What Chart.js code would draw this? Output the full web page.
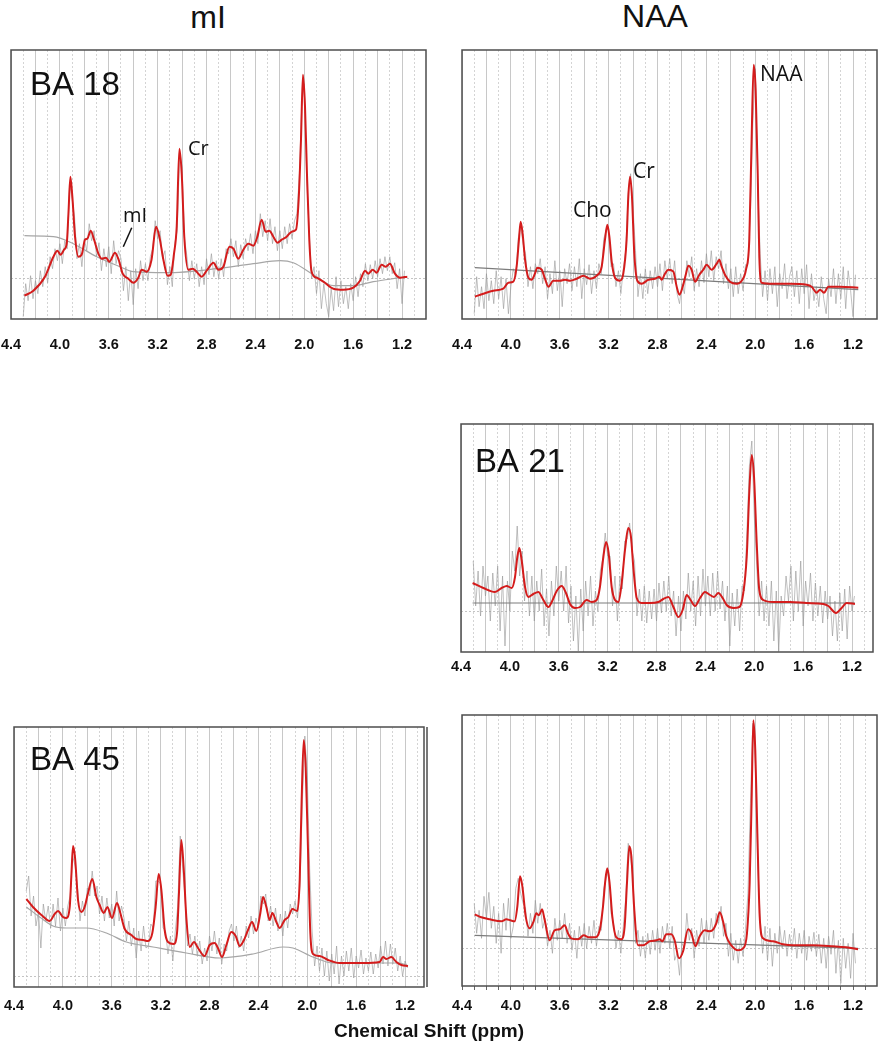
<!DOCTYPE html>
<html>
<head>
<meta charset="utf-8">
<title>MRS spectra</title>
<script src="https://cdn.jsdelivr.net/npm/chart.js@4.4.1/dist/chart.umd.min.js"></script>
<style>
	html, body { margin: 0; padding: 0; background: #fff; overflow: hidden; }
	body { position: relative; width: 879px; height: 1050px; }
	.panel { position: absolute; }
	.txt { position: absolute; color: #111; white-space: nowrap; line-height: 1; transform: translateX(-50%); }
	.col-title { font: 32px "Liberation Sans", Arial, sans-serif; }
	.x-title { font: bold 19px "Liberation Sans", Arial, sans-serif; }
</style>
</head>
<body>
<div class="txt col-title" style="left:208px;top:-1px">mI</div>
<div class="txt col-title" style="left:655px;top:-2px">NAA</div>

<script>
(function () {
	'use strict';

	// ppm positions of the raw (noisy) spectrum samples
	const ppmGrid = [
		4.30, 4.28, 4.26, 4.24, 4.22, 4.20, 4.18, 4.16, 4.14, 4.12,
		4.10, 4.08, 4.06, 4.04, 4.02, 4.00, 3.98, 3.96, 3.94, 3.92,
		3.90, 3.88, 3.86, 3.84, 3.82, 3.80, 3.78, 3.76, 3.74, 3.72,
		3.70, 3.68, 3.66, 3.64, 3.62, 3.60, 3.58, 3.56, 3.54, 3.52,
		3.50, 3.48, 3.46, 3.44, 3.42, 3.40, 3.38, 3.36, 3.34, 3.32,
		3.30, 3.28, 3.26, 3.24, 3.22, 3.20, 3.18, 3.16, 3.14, 3.12,
		3.10, 3.08, 3.06, 3.04, 3.02, 3.00, 2.98, 2.96, 2.94, 2.92,
		2.90, 2.88, 2.86, 2.84, 2.82, 2.80, 2.78, 2.76, 2.74, 2.72,
		2.70, 2.68, 2.66, 2.64, 2.62, 2.60, 2.58, 2.56, 2.54, 2.52,
		2.50, 2.48, 2.46, 2.44, 2.42, 2.40, 2.38, 2.36, 2.34, 2.32,
		2.30, 2.28, 2.26, 2.24, 2.22, 2.20, 2.18, 2.16, 2.14, 2.12,
		2.10, 2.08, 2.06, 2.04, 2.02, 2.00, 1.98, 1.96, 1.94, 1.92,
		1.90, 1.88, 1.86, 1.84, 1.82, 1.80, 1.78, 1.76, 1.74, 1.72,
		1.70, 1.68, 1.66, 1.64, 1.62, 1.60, 1.58, 1.56, 1.54, 1.52,
		1.50, 1.48, 1.46, 1.44, 1.42, 1.40, 1.38, 1.36, 1.34, 1.32,
		1.30, 1.28, 1.26, 1.24, 1.22, 1.20, 1.18,
	];
	const gridTicks = [4.4, 4.3, 4.2, 4.1, 4.0, 3.9, 3.8, 3.7, 3.6, 3.5, 3.4, 3.3, 3.2, 3.1, 3.0, 2.9, 2.8, 2.7,
		2.6, 2.5, 2.4, 2.3, 2.2, 2.1, 2.0, 1.9, 1.8, 1.7, 1.6, 1.5, 1.4, 1.3, 1.2, 1.1, 1.0];
	const labelTicks = [4.4, 4.0, 3.6, 3.2, 2.8, 2.4, 2.0, 1.6, 1.2];

	// BA 18 - mI voxel
	const miBA18Fit = [[4.29, -17], [4.217, -12], [4.122, 2], [4.053, 22], [4.02, 28], [3.994, 24], [3.966, 29], [3.944, 35],
		[3.93, 65], [3.914, 102], [3.898, 82], [3.876, 42], [3.849, 22], [3.822, 24], [3.794, 39], [3.775, 40], [3.748, 48],
		[3.72, 39], [3.685, 25], [3.658, 20], [3.622, 21], [3.595, 17], [3.549, 26], [3.522, 20], [3.486, 5], [3.44, 0],
		[3.4, -4], [3.358, 1], [3.331, 9], [3.29, 7], [3.25, 19], [3.213, 52], [3.186, 42], [3.153, 19], [3.118, 3],
		[3.093, 4], [3.066, 25], [3.044, 52], [3.022, 130], [3.003, 105], [2.982, 42], [2.949, 9], [2.913, 10], [2.881, 7],
		[2.84, 2], [2.793, 9], [2.744, 16], [2.703, 9], [2.662, 12], [2.613, 32], [2.58, 30], [2.54, 20], [2.499, 29],
		[2.458, 35], [2.417, 33], [2.384, 42], [2.349, 59], [2.316, 47], [2.286, 48], [2.253, 42], [2.22, 36], [2.185, 39],
		[2.144, 42], [2.103, 47], [2.068, 49], [2.046, 79], [2.027, 139], [2.011, 204], [1.994, 172], [1.978, 105],
		[1.959, 39], [1.94, 7], [1.899, 1], [1.844, -3], [1.762, -10], [1.68, -11], [1.599, -9], [1.544, -2], [1.503, 8],
		[1.476, 5], [1.44, 9], [1.408, 6], [1.367, 14], [1.334, 12], [1.299, 15], [1.258, 5], [1.217, 1], [1.157, 2]];
	const miBA18Base = [[4.29, 43], [4.053, 42], [3.89, 35], [3.699, 22], [3.508, 12], [3.4, 7], [3.127, 6], [2.717, 10],
		[2.417, 15], [2.199, 18], [2.09, 16], [1.926, 4], [1.762, -7], [1.599, -7], [1.435, -3], [1.217, 1]];
	const miBA18Raw = [
		-38, -5, -22, 3, -20, -2, -15, 8, -8, 12,
		-4, 22, 10, 30, 18, 35, 15, 38, 30, 95,
		80, 62, 20, 35, 12, 40, 28, 55, 38, 48,
		22, 36, 8, 30, 12, 32, 5, 38, 15, 28,
		20, -12, 12, -22, 8, -26, 10, -10, 18, -2,
		15, -2, 22, 30, 58, 40, 48, 20, 28, -6,
		12, -8, 35, 48, 125, 112, 40, 22, -2, 18,
		0, 15, -8, 12, -6, 20, 4, 25, 2, 18,
		0, 20, 2, 30, 25, 40, 22, 38, 12, 34,
		20, 40, 28, 45, 25, 48, 35, 65, 42, 58,
		38, 60, 35, 52, 28, 48, 30, 52, 35, 55,
		40, 58, 65, 105, 175, 195, 100, 48, 0, 12,
		-15, 8, -30, -5, -25, -38, -10, -32, 2, -28,
		-2, -25, -8, -30, -5, -22, 2, -18, 5, -8,
		15, -2, 14, 0, 18, 2, 20, 5, 22, 8,
		22, 5, 16, -10, 10, -25, 8,
	];

	// BA 18 - NAA voxel
	const naaBA18Fit = [[4.294, -18], [4.225, -15], [4.144, -12], [4.062, -10], [4.021, -4], [3.98, -3], [3.953, 12],
		[3.934, 39], [3.92, 57], [3.904, 45], [3.884, 19], [3.857, 1], [3.83, -1], [3.803, 5], [3.784, 11], [3.748, 9],
		[3.721, 0], [3.693, -8], [3.653, -2], [3.598, -2], [3.557, -1], [3.516, -2], [3.462, 0], [3.407, 3], [3.353, 0],
		[3.298, 3], [3.257, 12], [3.23, 39], [3.211, 54], [3.194, 42], [3.175, 17], [3.148, 1], [3.107, -2], [3.08, 5],
		[3.053, 39], [3.039, 82], [3.025, 102], [3.009, 82], [2.99, 25], [2.965, -2], [2.93, -5], [2.875, -1], [2.82, 0],
		[2.785, 2], [2.766, -1], [2.739, 5], [2.711, 9], [2.67, 7], [2.643, -8], [2.621, -16], [2.594, -8], [2.567, 5],
		[2.548, 13], [2.521, 9], [2.493, -3], [2.458, 4], [2.425, 9], [2.398, 14], [2.357, 9], [2.316, 15], [2.294, 19],
		[2.275, 12], [2.248, 4], [2.207, -3], [2.152, -5], [2.111, -2], [2.076, 9], [2.049, 39], [2.03, 139], [2.013, 214],
		[1.997, 189], [1.98, 105], [1.967, 22], [1.948, -4], [1.852, -5], [1.716, -5], [1.58, -6], [1.539, -8],
		[1.498, -14], [1.47, -11], [1.438, -14], [1.402, -8], [1.307, -8], [1.157, -9]];
	const naaBA18Base = [[4.294, 11], [1.157, -11]];
	const naaBA18Raw = [
		-35, 2, -28, -8, -30, 5, -22, -2, -25, 8,
		-20, 2, -30, 0, -35, -8, 10, 2, 40, 52,
		35, 25, -8, 12, -10, 15, 5, 20, -5, 12,
		-20, 5, -15, 18, -12, 8, -28, 10, -5, 15,
		-12, 12, -8, 20, -20, 10, -6, 14, -15, 8,
		-10, 15, 5, 40, 48, 50, 12, 15, -8, 8,
		-15, 10, 28, 85, 105, 70, 28, -18, 5, -20,
		10, -15, 8, -10, 12, -8, 15, -12, 18, 0,
		20, -5, 18, -15, -25, -5, -15, 18, 2, 22,
		-12, 10, -8, 18, -4, 25, 2, 28, -2, 22,
		10, 28, -5, 15, -10, 10, -18, 12, -15, 5,
		-12, 14, 15, 65, 155, 210, 95, 25, -18, 8,
		-22, 10, -15, 12, -28, 5, -10, 15, -20, 2,
		12, -18, 8, -25, 10, -15, 14, -30, 5, -22,
		-8, -28, 2, -20, -35, 0, -18, 10, -25, 5,
		-20, 12, -30, 8, -12, -38, 4,
	];

	// BA 21 - NAA voxel
	const naaBA21Fit = [[4.305, 28], [4.217, 23], [4.122, 19], [4.067, 23], [4.026, 25], [3.985, 23], [3.958, 34],
		[3.939, 54], [3.923, 63], [3.904, 51], [3.876, 24], [3.849, 14], [3.808, 17], [3.767, 19], [3.726, 11], [3.685, 4],
		[3.65, 11], [3.617, 20], [3.576, 25], [3.541, 18], [3.508, 7], [3.467, 3], [3.426, 4], [3.372, 11], [3.331, 9],
		[3.29, 11], [3.263, 24], [3.235, 54], [3.213, 69], [3.192, 58], [3.167, 24], [3.14, 11], [3.112, 9], [3.085, 28],
		[3.058, 61], [3.031, 83], [3.009, 74], [2.99, 44], [2.962, 13], [2.922, 8], [2.853, 8], [2.785, 9], [2.744, 12],
		[2.703, 14], [2.662, 4], [2.621, -6], [2.586, 1], [2.553, 16], [2.521, 11], [2.485, 5], [2.444, 13], [2.403, 19],
		[2.362, 16], [2.33, 14], [2.294, 18], [2.259, 13], [2.226, 6], [2.171, 3], [2.122, 4], [2.09, 18], [2.062, 54],
		[2.04, 121], [2.021, 156], [2.002, 134], [1.98, 68], [1.959, 21], [1.926, 11], [1.844, 9], [1.708, 9], [1.571, 8],
		[1.435, 7], [1.394, 5], [1.331, -2], [1.285, 3], [1.244, 8], [1.176, 7]];
	const naaBA21Base = [[4.305, 8], [1.176, 8]];
	const naaBA21Raw = [
		50, 5, 40, -5, 45, 15, 35, -10, 38, 5,
		45, -20, 35, -35, 30, 0, 60, 40, 85, 35,
		60, 10, 40, -5, 35, -10, 30, 0, 42, -15,
		22, -25, 30, -5, 45, 10, 40, 0, 45, -12,
		25, -30, 15, -40, 22, -20, 30, -5, 35, -15,
		20, 0, 40, 52, 78, 55, 55, 5, 35, -10,
		35, 22, 70, 72, 88, 60, 50, -5, 22, -10,
		25, -12, 20, -8, 22, -10, 28, -2, 30, 0,
		35, -5, 20, -25, 15, -20, 20, -8, 38, 0,
		30, -15, 35, -5, 42, 5, 35, -5, 38, 0,
		40, 2, 30, -10, 25, -35, 18, -15, 22, -20,
		25, 20, 80, 145, 170, 95, 45, -5, 30, -10,
		25, -15, 30, -30, 20, -40, 15, -5, 35, 10,
		45, -10, 40, 0, 50, -15, 30, 5, 38, -10,
		28, -5, 25, -12, 20, -8, 15, -25, 10, -30,
		18, -20, 22, -28, 25, 0, 15,
	];

	// BA 45 - mI voxel
	const miBA45Fit = [[4.299, 77], [4.245, 69], [4.176, 61], [4.108, 55], [4.067, 62], [4.04, 65], [3.999, 59],
		[3.972, 58], [3.944, 69], [3.931, 99], [3.917, 130], [3.901, 119], [3.876, 76], [3.849, 64], [3.822, 69],
		[3.794, 83], [3.759, 97], [3.726, 79], [3.699, 71], [3.666, 63], [3.636, 69], [3.598, 58], [3.557, 73], [3.53, 63],
		[3.494, 47], [3.44, 41], [3.399, 37], [3.344, 36], [3.303, 35], [3.268, 43], [3.241, 69], [3.216, 102], [3.194, 86],
		[3.167, 46], [3.14, 34], [3.093, 32], [3.066, 43], [3.05, 83], [3.031, 136], [3.012, 109], [2.99, 59], [2.962, 29],
		[2.927, 34], [2.894, 28], [2.84, 20], [2.799, 31], [2.758, 33], [2.731, 28], [2.698, 19], [2.662, 31], [2.622, 44],
		[2.586, 40], [2.553, 30], [2.518, 36], [2.485, 46], [2.452, 54], [2.417, 45], [2.384, 63], [2.362, 79], [2.335, 69],
		[2.308, 56], [2.286, 63], [2.253, 54], [2.226, 48], [2.185, 56], [2.155, 59], [2.122, 67], [2.081, 65], [2.062, 96],
		[2.046, 176], [2.029, 236], [2.013, 209], [1.994, 126], [1.975, 43], [1.953, 22], [1.899, 20], [1.83, 16],
		[1.735, 13], [1.544, 13], [1.408, 14], [1.38, 19], [1.353, 17], [1.312, 19], [1.271, 14], [1.23, 11], [1.176, 10]];
	const miBA45Base = [[4.299, 69], [4.19, 59], [4.081, 50], [3.972, 48], [3.808, 48], [3.644, 43], [3.48, 34],
		[3.262, 29], [2.99, 23], [2.717, 18], [2.444, 22], [2.199, 29], [2.117, 28], [1.953, 19], [1.79, 13], [1.517, 13],
		[1.244, 13], [1.176, 10]];
	const miBA45Raw = [
		85, 100, 60, 80, 50, 65, 28, 72, 55, 70,
		48, 72, 50, 78, 45, 68, 50, 70, 80, 120,
		110, 88, 55, 75, 60, 88, 80, 105, 80, 90,
		62, 80, 55, 78, 58, 72, 50, 85, 55, 70,
		58, 35, 55, 30, 48, 18, 45, 25, 50, 28,
		30, 52, 48, 95, 95, 92, 48, 45, 22, 40,
		15, 45, 70, 140, 108, 78, 30, 42, 22, 40,
		20, 35, 12, 28, 15, 40, 25, 45, 22, 38,
		12, 32, 25, 45, 52, 35, 50, 28, 40, 25,
		50, 38, 60, 42, 58, 48, 80, 72, 82, 55,
		70, 50, 68, 45, 62, 40, 65, 48, 72, 62,
		75, 58, 90, 175, 240, 200, 105, 45, 10, 30,
		5, 28, 0, 25, -5, 22, 2, 30, -8, 20,
		0, 25, 5, 28, -2, 20, 8, 26, 2, 18,
		5, 24, 2, 22, 8, 30, 12, 35, 10, 32,
		12, 28, 5, 20, 0, 15, 8,
	];

	// BA 45 - NAA voxel
	const naaBA45Fit = [[4.296, 34], [4.242, 31], [4.174, 29], [4.078, 27], [4.037, 29], [4.004, 28], [3.969, 27],
		[3.947, 42], [3.925, 72], [3.906, 62], [3.879, 32], [3.846, 20], [3.814, 27], [3.792, 35], [3.77, 33], [3.745, 39],
		[3.723, 28], [3.683, 8], [3.642, 18], [3.601, 19], [3.56, 23], [3.533, 15], [3.505, 10], [3.451, 9], [3.404, 13],
		[3.361, 11], [3.314, 11], [3.273, 18], [3.246, 42], [3.227, 68], [3.211, 80], [3.192, 65], [3.17, 32], [3.137, 11],
		[3.096, 9], [3.069, 22], [3.05, 65], [3.031, 102], [3.014, 92], [2.992, 42], [2.96, 3], [2.919, 3], [2.864, 7],
		[2.81, 8], [2.782, 9], [2.761, 7], [2.728, 14], [2.687, 14], [2.66, 8], [2.624, -10], [2.591, -3], [2.55, 19],
		[2.523, 15], [2.49, 2], [2.455, 12], [2.414, 18], [2.378, 17], [2.351, 18], [2.319, 25], [2.291, 36], [2.264, 27],
		[2.237, 12], [2.196, 3], [2.141, -2], [2.1, 0], [2.068, 15], [2.046, 65], [2.03, 148], [2.016, 228], [2.0, 198],
		[1.983, 115], [1.964, 32], [1.937, 10], [1.855, 7], [1.773, 4], [1.691, 3], [1.527, 3], [1.364, 2], [1.255, 1],
		[1.159, -1]];
	const naaBA45Base = [[4.296, 13], [1.159, 0]];
	const naaBA45Raw = [
		45, 15, 38, 10, 52, 30, 56, 20, 42, 5,
		35, -5, 45, 18, 50, 10, 22, 60, 70, 55,
		45, 40, 12, 35, 15, 48, 25, 45, 20, 30,
		2, 18, -5, 30, 8, 28, 10, 35, 5, 25,
		-2, 18, -10, 22, 2, 25, 0, 22, 5, 28,
		2, 22, 18, 60, 70, 78, 35, 25, 0, 18,
		-5, 22, 50, 105, 90, 70, 5, 18, -8, 12,
		-10, 15, -6, 18, -2, 20, -5, 22, 5, 25,
		0, 22, -12, -5, -27, 5, 0, 35, 8, 20,
		-10, 18, 2, 30, 5, 28, 8, 30, 10, 35,
		25, 42, 12, 25, -8, 15, -12, 8, -15, 10,
		-8, 20, 55, 145, 225, 185, 85, 30, -5, 22,
		-12, 20, -18, 15, -5, 22, 0, 18, -8, 14,
		-2, 20, -10, 15, -5, 18, -12, 12, -3, 16,
		-8, 14, -15, 10, -20, 12, -6, 18, -25, 8,
		-35, 10, -20, 5, -30, 15, -15,
	];

	const RED = '#d41c1c';
	const PX_PER_PPM = 122.2;
	const PADX = 40;
	const PADT = 4;
	const AXH = 50;
	const BIG = '33px "Liberation Sans", Arial, sans-serif';
	const SMALL = '20px "Open Sans", sans-serif';
	const SMALL2 = '21px "Open Sans", sans-serif';

	const panels = [
		{
			box: [11, 50, 415, 269], yRange: [-40.3, 228.7],
			fit: miBA18Fit, base: miBA18Base, raw: miBA18Raw, baseColor: '#a6a6a6', tickPad: 17,
			notes: [
				{ text: 'BA 18', at: [4.245, 184], font: BIG },
				{ text: 'Cr', at: [2.952, 124], font: SMALL },
				{ text: 'mI', at: [3.483, 57], font: SMALL },
				{ line: [[3.412, 51], [3.481, 32]] },
			],
		},
		{
			box: [462, 50, 415, 269], yRange: [-40.3, 228.7],
			fit: naaBA18Fit, base: naaBA18Base, raw: naaBA18Raw, baseColor: '#7c7c7c', tickPad: 17,
			notes: [
				{ text: 'Cho', at: [3.492, 61.7], font: SMALL2 },
				{ text: 'Cr', at: [3.001, 100.7], font: SMALL2 },
				{ text: 'NAA', at: [1.961, 197.7], font: SMALL2 },
			],
		},
		{
			box: [461, 424, 412, 228], yRange: [-41, 187],
			fit: naaBA21Fit, base: naaBA21Base, raw: naaBA21Raw, baseColor: '#7c7c7c', tickPad: 6,
			notes: [{ text: 'BA 21', at: [4.285, 139], font: BIG }],
		},
		{
			box: [14, 727, 410, 260], yRange: [-11, 249],
			fit: miBA45Fit, base: miBA45Base, raw: miBA45Raw, baseColor: '#a6a6a6', tickPad: 10, doubleRight: true,
			notes: [{ text: 'BA 45', at: [4.269, 206], font: BIG }],
		},
		{
			box: [462, 715, 415, 271], yRange: [-37.7, 233.3],
			fit: naaBA45Fit, base: naaBA45Base, raw: naaBA45Raw, baseColor: '#7c7c7c', tickPad: 7, tickMarks: true,
			notes: [],
		},
	];

	function isMajor(ctx) {
		return ctx.tick ? Math.round(ctx.tick.value * 10) % 2 === 0 : true;
	}

	function toXY(pairs) {
		return pairs.map((p) => ({ x: p[0], y: p[1] }));
	}

	function framePlugin(p) {
		return {
			id: 'frame',
			afterDraw(chart) {
				const { ctx, chartArea: a, scales } = chart;
				const sx = (v) => scales.x.getPixelForValue(v);
				const sy = (v) => scales.y.getPixelForValue(v);
				ctx.save();
				ctx.strokeStyle = '#4d4d4d';
				ctx.lineWidth = 1.5;
				ctx.strokeRect(a.left, a.top, a.right - a.left, a.bottom - a.top);
				if (p.doubleRight) {
					ctx.beginPath();
					ctx.moveTo(a.right + 3, a.top);
					ctx.lineTo(a.right + 3, a.bottom);
					ctx.stroke();
				}
				ctx.fillStyle = '#111';
				ctx.textAlign = 'left';
				ctx.textBaseline = 'alphabetic';
				p.notes.forEach((n) => {
					if (n.line) {
						ctx.strokeStyle = '#111';
						ctx.lineWidth = 1.5;
						ctx.beginPath();
						ctx.moveTo(sx(n.line[0][0]), sy(n.line[0][1]));
						ctx.lineTo(sx(n.line[1][0]), sy(n.line[1][1]));
						ctx.stroke();
						return;
					}
					ctx.font = n.font;
					ctx.fillText(n.text, sx(n.at[0]), sy(n.at[1]));
				});
				ctx.restore();
			},
		};
	}

	function drawPanel(p) {
		const [left, top, w, h] = p.box;
		const wrap = document.createElement('div');
		wrap.className = 'panel';
		wrap.style.left = (left - PADX) + 'px';
		wrap.style.top = (top - PADT) + 'px';
		const canvas = document.createElement('canvas');
		canvas.width = w + 2 * PADX;
		canvas.height = h + PADT + AXH;
		wrap.appendChild(canvas);
		document.body.appendChild(wrap);

		const xMin = 4.4 - w / PX_PER_PPM;

		new Chart(canvas, {
			type: 'line',
			data: {
				datasets: [
					{ data: toXY(p.fit), borderColor: RED, borderWidth: 2, pointRadius: 0, cubicInterpolationMode: 'monotone' },
					{ data: toXY(p.base), borderColor: p.baseColor, borderWidth: 1.2, pointRadius: 0, cubicInterpolationMode: 'monotone' },
					{ data: ppmGrid.map((x, i) => ({ x, y: p.raw[i] })), borderColor: 'rgba(150,150,150,0.6)', borderWidth: 1, pointRadius: 0, tension: 0 },
				],
			},
			options: {
				responsive: false,
				animation: false,
				devicePixelRatio: 1,
				events: [],
				layout: { padding: { left: PADX, right: PADX, top: PADT, bottom: 0 } },
				plugins: { legend: { display: false }, tooltip: { enabled: false } },
				scales: {
					x: {
						type: 'linear',
						reverse: true,
						min: xMin,
						max: 4.4,
						afterBuildTicks: (s) => {
							s.ticks = gridTicks.filter((v) => v >= s.min - 1e-9).map((v) => ({ value: v }));
						},
						afterFit: (s) => { s.height = AXH; },
						grid: {
							color: (ctx) => (isMajor(ctx) ? '#c8c8c8' : '#d4d4d4'),
							lineWidth: 1,
							drawTicks: !!p.tickMarks,
							tickLength: 4,
							tickColor: '#666',
						},
						border: { display: false, dash: (ctx) => (isMajor(ctx) ? [] : [2, 2]) },
						ticks: {
							autoSkip: false,
							maxRotation: 0,
							minRotation: 0,
							padding: p.tickPad,
							color: '#111',
							font: { family: '"Liberation Sans", Arial, sans-serif', size: 14.5, weight: 'bold' },
							callback: (v) => (labelTicks.includes(v) ? v.toFixed(1) : ''),
						},
					},
					y: {
						min: p.yRange[0],
						max: p.yRange[1],
						afterBuildTicks: (s) => { s.ticks = [{ value: 0 }]; },
						afterFit: (s) => { s.width = 0; },
						grid: { color: '#c4c4c4', drawTicks: false },
						border: { display: false, dash: [2, 2] },
						ticks: { display: false },
					},
				},
			},
			plugins: [framePlugin(p)],
		});
	}

	panels.forEach(drawPanel);

	const xTitle = document.createElement('div');
	xTitle.className = 'txt x-title';
	xTitle.style.left = '429px';
	xTitle.style.top = '1020px';
	xTitle.textContent = 'Chemical Shift (ppm)';
	document.body.appendChild(xTitle);
})();
</script>
</body>
</html>
